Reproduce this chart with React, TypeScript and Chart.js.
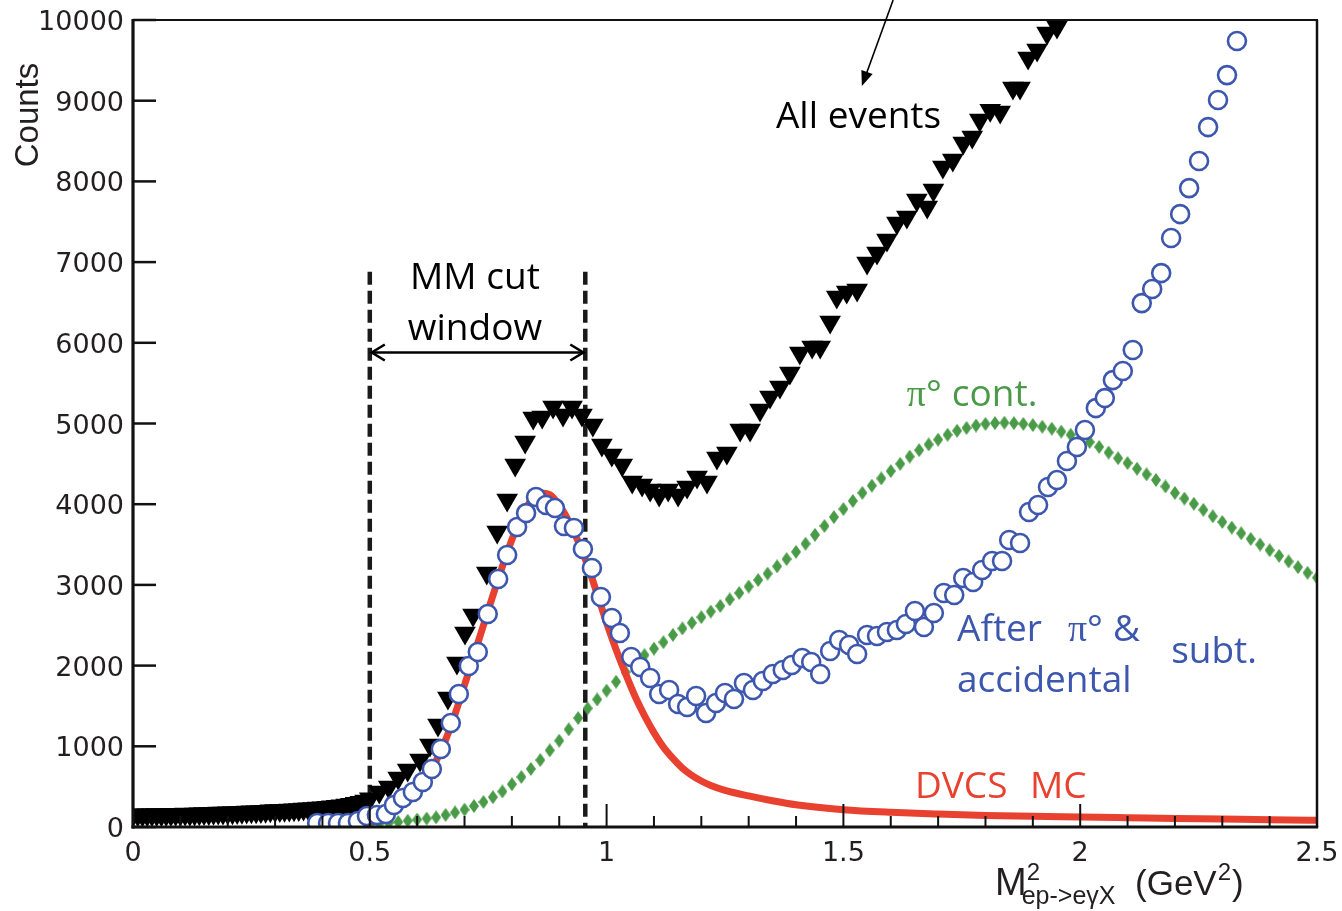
import React, { useEffect, useRef } from "react";
import { Chart, registerables } from "chart.js";

Chart.register(...registerables);

// ---------------- data ----------------
// All events (black downward triangles)
const allEventsX = [
  0.0, 0.01, 0.02, 0.03, 0.04, 0.05, 0.06, 0.07, 0.08, 0.09,
  0.1, 0.11, 0.12, 0.13, 0.14, 0.15, 0.16, 0.17, 0.18, 0.19,
  0.2, 0.21, 0.22, 0.23, 0.24, 0.25, 0.26, 0.27, 0.28, 0.29,
  0.3, 0.31, 0.32, 0.33, 0.34, 0.35, 0.36, 0.37, 0.38, 0.39,
  0.4, 0.41, 0.42, 0.43, 0.44, 0.45, 0.46, 0.47, 0.48, 0.49,
  0.5, 0.52, 0.54, 0.56, 0.58, 0.606, 0.627, 0.644, 0.665, 0.684,
  0.701, 0.718, 0.747, 0.769, 0.79, 0.807, 0.828, 0.845, 0.864, 0.887,
  0.908, 0.927, 0.948, 0.971, 0.99, 1.011, 1.033, 1.054, 1.075, 1.092,
  1.111, 1.13, 1.151, 1.17, 1.191, 1.212, 1.233, 1.254, 1.282, 1.303,
  1.324, 1.345, 1.366, 1.387, 1.408, 1.434, 1.451, 1.472, 1.486, 1.507,
  1.529, 1.55, 1.571, 1.592, 1.613, 1.634, 1.655, 1.677, 1.69, 1.71,
  1.731, 1.753, 1.772, 1.788, 1.81, 1.831, 1.858, 1.873, 1.89, 1.909,
  1.93, 1.951, 1.97, 1.99,
];
const allEventsY = [
  150, 151, 150, 152, 153, 154, 152, 155, 156, 158,
  158, 160, 159, 162, 165, 166, 168, 170, 172, 175,
  176, 178, 180, 183, 185, 188, 190, 193, 196, 200,
  203, 205, 208, 212, 215, 218, 222, 226, 230, 236,
  240, 245, 250, 256, 263, 272, 283, 295, 308, 322,
  350, 434, 496, 607, 706, 830, 1016, 1264, 1598, 2032,
  2404, 2627, 3147, 3655, 4051, 4486, 4770, 5068, 5080, 5204,
  5105, 5204, 5105, 4981, 4733, 4609, 4485, 4275, 4237, 4175,
  4113, 4175, 4113, 4213, 4337, 4275, 4572, 4634, 4919, 4919,
  5167, 5328, 5451, 5625, 5873, 5947, 5947, 6257, 6567, 6629,
  6653, 6988, 7112, 7273, 7484, 7558, 7769, 7682, 7893, 8177,
  8264, 8475, 8550, 8760, 8883, 8859, 9156, 9156, 9528, 9627,
  9838, 9912, 10150, 10400,
];

// pi0 contamination (green diamonds)
const pi0X = [
  0.4, 0.42, 0.44, 0.46, 0.48, 0.5, 0.52, 0.54, 0.56, 0.58,
  0.6, 0.62, 0.64, 0.66, 0.68, 0.7, 0.72, 0.74, 0.76, 0.78,
  0.8, 0.82, 0.84, 0.86, 0.88, 0.9, 0.92, 0.94, 0.96, 0.98,
  1.0, 1.02, 1.04, 1.06, 1.08, 1.1, 1.12, 1.14, 1.16, 1.18,
  1.2, 1.22, 1.24, 1.26, 1.28, 1.3, 1.32, 1.34, 1.36, 1.38,
  1.4, 1.42, 1.44, 1.46, 1.48, 1.5, 1.52, 1.54, 1.56, 1.58,
  1.6, 1.62, 1.64, 1.66, 1.68, 1.7, 1.72, 1.74, 1.76, 1.78,
  1.8, 1.82, 1.84, 1.86, 1.88, 1.9, 1.92, 1.94, 1.96, 1.98,
  2.0, 2.02, 2.04, 2.06, 2.08, 2.1, 2.12, 2.14, 2.16, 2.18,
  2.2, 2.22, 2.24, 2.26, 2.28, 2.3, 2.32, 2.34, 2.36, 2.38,
  2.4, 2.42, 2.44, 2.46, 2.48, 2.5,
];
const pi0Y = [
  5, 8, 12, 16, 20, 28, 38, 50, 62, 78,
  92, 105, 120, 150, 180, 215, 260, 310, 370, 440,
  530, 620, 720, 830, 950, 1070, 1210, 1350, 1470, 1580,
  1690, 1800, 1920, 2030, 2130, 2210, 2290, 2380, 2460, 2530,
  2600, 2670, 2740, 2820, 2900, 2980, 3060, 3140, 3230, 3320,
  3410, 3510, 3620, 3730, 3840, 3940, 4040, 4140, 4230, 4320,
  4410, 4500, 4590, 4670, 4740, 4800, 4860, 4910, 4945, 4975,
  4995, 5005, 5010, 5005, 4995, 4980, 4960, 4935, 4900, 4860,
  4815, 4770, 4710, 4640, 4570, 4510, 4440, 4370, 4300, 4220,
  4140, 4070, 4005, 3930, 3850, 3780, 3710, 3640, 3570, 3500,
  3430, 3360, 3290, 3220, 3150, 3090,
];

// DVCS Monte Carlo (red curve)
const dvcsX = [
  0.5, 0.55, 0.6, 0.62, 0.64, 0.66, 0.68, 0.7, 0.72, 0.74,
  0.76, 0.78, 0.8, 0.82, 0.84, 0.86, 0.88, 0.9, 0.92, 0.94,
  0.96, 0.98, 1.0, 1.02, 1.04, 1.06, 1.08, 1.1, 1.12, 1.14,
  1.16, 1.18, 1.2, 1.22, 1.25, 1.3, 1.35, 1.4, 1.5, 1.6,
  1.7, 1.8, 1.9, 2.0, 2.1, 2.2, 2.3, 2.4, 2.5,
];
const dvcsY = [
  50, 200, 470, 620, 820, 1080, 1400, 1760, 2130, 2500,
  2870, 3230, 3560, 3840, 4040, 4140, 4120, 3990, 3790, 3540,
  3240, 2890, 2530, 2200, 1900, 1620, 1380, 1170, 990, 850,
  730, 640, 570, 515, 455, 385, 325, 275, 215, 182,
  160, 143, 132, 124, 115, 106, 98, 90, 83,
];

// After pi0 & accidental subtraction (blue open circles)
const afterX = [
  0.389, 0.412, 0.433, 0.454, 0.475, 0.494, 0.515, 0.534, 0.551, 0.57,
  0.591, 0.612, 0.631, 0.65, 0.671, 0.688, 0.709, 0.728, 0.749, 0.771,
  0.79, 0.811, 0.83, 0.851, 0.872, 0.891, 0.91, 0.931, 0.95, 0.969,
  0.988, 1.011, 1.028, 1.052, 1.071, 1.092, 1.111, 1.132, 1.151, 1.17,
  1.189, 1.21, 1.231, 1.25, 1.269, 1.29, 1.309, 1.33, 1.351, 1.372,
  1.391, 1.413, 1.432, 1.451, 1.472, 1.491, 1.512, 1.529, 1.55, 1.571,
  1.592, 1.613, 1.632, 1.651, 1.67, 1.691, 1.712, 1.734, 1.753, 1.774,
  1.793, 1.814, 1.835, 1.85, 1.873, 1.892, 1.911, 1.932, 1.951, 1.972,
  1.993, 2.01, 2.033, 2.052, 2.069, 2.09, 2.111, 2.13, 2.152, 2.171,
  2.192, 2.211, 2.23, 2.251, 2.27, 2.291, 2.31, 2.331,
];
const afterY = [
  50, 50, 50, 50, 74, 136, 149, 161, 273, 359,
  434, 558, 719, 966, 1289, 1648, 1995, 2168, 2639, 3073,
  3370, 3717, 3890, 4089, 3990, 3952, 3729, 3705, 3444, 3209,
  2850, 2590, 2404, 2106, 1982, 1846, 1648, 1697, 1524, 1487,
  1623, 1412, 1536, 1660, 1586, 1784, 1697, 1809, 1896, 1945,
  2007, 2094, 2044, 1896, 2181, 2317, 2255, 2143, 2379, 2367,
  2416, 2441, 2515, 2676, 2478, 2651, 2899, 2874, 3085, 3036,
  3184, 3296, 3296, 3556, 3519, 3903, 3990, 4213, 4299, 4535,
  4708, 4919, 5191, 5315, 5538, 5650, 5910, 6492, 6666, 6864,
  7298, 7595, 7917, 8252, 8673, 9008, 9317, 9739,
];

// axis ticks
const yTickValues = [0, 1000, 2000, 3000, 4000, 5000, 6000, 7000, 8000, 9000, 10000];
const xMajorTicks = [0, 0.5, 1, 1.5, 2, 2.5];
const xMinorTicks = [
  0.1, 0.2, 0.3, 0.4, 0.6, 0.7, 0.8, 0.9, 1.1, 1.2, 1.3, 1.4,
  1.6, 1.7, 1.8, 1.9, 2.1, 2.2, 2.3, 2.4,
];

// missing-mass cut window
const cutWindow = [0.5, 0.955];
const cutLineTop = 6880;
const cutArrowY = 5880;

// ---------------- styling ----------------
const BLACK = "#000000";
const GREEN = "#4a9b47";
const BLUE = "#3c57ad";
const RED = "#e8412f";
const AXIS_TEXT = "#231f20";
const ANNOT_FONT = '"Open Sans", "Noto Sans", sans-serif';
const TITLE_FONT = '"Liberation Sans", Arial, sans-serif';

const toPoints = (xs: number[], ys: number[]) => xs.map((x, i) => ({ x, y: ys[i] }));

function makeDiamond(w: number, h: number, color: string) {
  const c = document.createElement("canvas");
  c.width = w;
  c.height = h;
  const g = c.getContext("2d")!;
  g.fillStyle = color;
  g.beginPath();
  g.moveTo(w / 2, 0);
  g.lineTo(w, h / 2);
  g.lineTo(w / 2, h);
  g.lineTo(0, h / 2);
  g.closePath();
  g.fill();
  return c;
}

function drawLine(ctx: CanvasRenderingContext2D, x1: number, y1: number, x2: number, y2: number) {
  ctx.beginPath();
  ctx.moveTo(x1, y1);
  ctx.lineTo(x2, y2);
  ctx.stroke();
}

function drawText(
  ctx: CanvasRenderingContext2D,
  s: string,
  x: number,
  y: number,
  font: string,
  color: string,
  align: CanvasTextAlign = "left"
) {
  ctx.font = font;
  ctx.fillStyle = color;
  ctx.textAlign = align;
  ctx.textBaseline = "alphabetic";
  ctx.fillText(s, x, y);
  return ctx.measureText(s).width;
}

const annotationPlugin = {
  id: "mmAnnotations",
  beforeDatasetsDraw(chart: any) {
    const { ctx, chartArea } = chart;
    const xs = chart.scales.x;
    const ys = chart.scales.y;
    ctx.save();
    ctx.strokeStyle = "#1a1a1a";
    ctx.lineWidth = 4.5;
    ctx.setLineDash([13, 6]);
    for (const cx of cutWindow) {
      const px = xs.getPixelForValue(cx);
      drawLine(ctx, px, ys.getPixelForValue(cutLineTop), px, chartArea.bottom);
    }
    ctx.restore();
  },
  afterDatasetsDraw(chart: any) {
    const { ctx, chartArea: ca } = chart;
    const xs = chart.scales.x;
    const ys = chart.scales.y;
    const X = (v: number) => xs.getPixelForValue(v);
    const Y = (v: number) => ys.getPixelForValue(v);
    ctx.save();
    ctx.setLineDash([]);
    ctx.strokeStyle = "#111111";
    ctx.lineCap = "butt";

    // frame
    ctx.lineWidth = 2;
    drawLine(ctx, ca.left, ca.top, ca.right + 1, ca.top);
    ctx.lineWidth = 2.5;
    drawLine(ctx, ca.right, ca.top, ca.right, ca.bottom);
    ctx.lineWidth = 3.2;
    drawLine(ctx, ca.left, ca.top - 1, ca.left, ca.bottom + 1.5);
    drawLine(ctx, ca.left - 1.5, ca.bottom, ca.right + 1.2, ca.bottom);

    // ticks (inward)
    ctx.lineWidth = 2.5;
    for (const v of yTickValues) drawLine(ctx, ca.left, Y(v), ca.left + 23, Y(v));
    ctx.lineWidth = 2;
    for (const v of xMajorTicks) drawLine(ctx, X(v), ca.bottom, X(v), ca.bottom - 23);
    for (const v of xMinorTicks) drawLine(ctx, X(v), ca.bottom, X(v), ca.bottom - 11);

    // cut window double arrow
    const ax1 = X(cutWindow[0]) + 2;
    const ax2 = X(cutWindow[1]) - 2;
    const ay = Y(cutArrowY);
    ctx.strokeStyle = BLACK;
    ctx.lineWidth = 2.6;
    drawLine(ctx, ax1, ay, ax2, ay);
    ctx.beginPath();
    ctx.moveTo(ax1 + 13, ay - 8);
    ctx.lineTo(ax1, ay);
    ctx.lineTo(ax1 + 13, ay + 8);
    ctx.moveTo(ax2 - 13, ay - 8);
    ctx.lineTo(ax2, ay);
    ctx.lineTo(ax2 - 13, ay + 8);
    ctx.stroke();

    // All events arrow
    const tx = X(1.539);
    const ty = Y(9181);
    const sx = X(1.605);
    const sy = Y(10247);
    const ang = Math.atan2(ty - sy, tx - sx);
    ctx.lineWidth = 1.6;
    drawLine(ctx, sx, sy, tx - Math.cos(ang) * 10, ty - Math.sin(ang) * 10);
    ctx.fillStyle = BLACK;
    ctx.beginPath();
    ctx.moveTo(tx, ty);
    ctx.lineTo(tx - Math.cos(ang) * 15 - Math.sin(ang) * 6, ty - Math.sin(ang) * 15 + Math.cos(ang) * 6);
    ctx.lineTo(tx - Math.cos(ang) * 15 + Math.sin(ang) * 6, ty - Math.sin(ang) * 15 - Math.cos(ang) * 6);
    ctx.closePath();
    ctx.fill();

    // annotation texts
    const f37 = `37px ${ANNOT_FONT}`;
    const pi37 = `38px "Liberation Serif", "DejaVu Serif", serif`;
    drawText(ctx, "All events", X(1.532), Y(8661), f37, BLACK, "center");
    drawText(ctx, "MM cut", X(0.722), Y(6666), f37, BLACK, "center");
    drawText(ctx, "window", X(0.722), Y(6034), f37, BLACK, "center");

    // pi0 cont.
    let w = drawText(ctx, "π", X(1.634), Y(5216), pi37, GREEN);
    drawText(ctx, "°", X(1.634) + w, Y(5216), f37, GREEN);
    drawText(ctx, "cont.", X(1.729), Y(5216), f37, GREEN);

    // After pi0 & accidental subt.
    drawText(ctx, "After", X(1.74), Y(2305), f37, BLUE);
    w = drawText(ctx, "π", X(1.974), Y(2305), pi37, BLUE);
    drawText(ctx, "°", X(1.974) + w, Y(2305), f37, BLUE);
    drawText(ctx, "&", X(2.069), Y(2305), f37, BLUE);
    drawText(ctx, "accidental", X(1.74), Y(1673), f37, BLUE);
    drawText(ctx, "subt.", X(2.192), Y(2032), f37, BLUE);

    // DVCS MC
    drawText(ctx, "DVCS", X(1.651), Y(359), f37, RED);
    drawText(ctx, "MC", X(1.894), Y(359), f37, RED);

    ctx.restore();
  },
  afterDraw(chart: any) {
    const { ctx } = chart;
    ctx.save();
    // y-axis title
    ctx.translate(38, 115);
    ctx.rotate(-Math.PI / 2);
    drawText(ctx, "Counts", 0, 0, `33px ${TITLE_FONT}`, AXIS_TEXT, "center");
    ctx.restore();

    ctx.save();
    // x-axis title: M^2_{ep->eγX} (GeV^2)
    let x = 995;
    const base = 895;
    const mw = drawText(ctx, "M", x, base, `38px ${TITLE_FONT}`, AXIS_TEXT);
    drawText(ctx, "2", x + mw, base - 15, `24px ${TITLE_FONT}`, AXIS_TEXT);
    drawText(ctx, "ep->eγX", x + mw - 5, base + 9, `25px ${TITLE_FONT}`, AXIS_TEXT);
    x = 1135;
    x += drawText(ctx, "(GeV", x, base, `35px ${TITLE_FONT}`, AXIS_TEXT);
    x += drawText(ctx, "2", x + 1, base - 15, `24px ${TITLE_FONT}`, AXIS_TEXT) + 2;
    drawText(ctx, ")", x, base, `35px ${TITLE_FONT}`, AXIS_TEXT);
    ctx.restore();
  },
};

export default function App() {
  const canvasRef = useRef<HTMLCanvasElement | null>(null);

  useEffect(() => {
    if (!canvasRef.current) return;
    const diamond = makeDiamond(10, 14, GREEN);
    const chart = new Chart(canvasRef.current, {
      type: "scatter",
      data: {
        datasets: [
          {
            label: "After π° & accidental subt.",
            data: toPoints(afterX, afterY),
            showLine: false,
            pointStyle: "circle",
            pointRadius: 9,
            pointBackgroundColor: "#ffffff",
            pointBorderColor: BLUE,
            pointBorderWidth: 2.6,
            clip: 0,
          },
          {
            label: "DVCS MC",
            data: toPoints(dvcsX, dvcsY),
            showLine: true,
            pointRadius: 0,
            borderColor: RED,
            borderWidth: 7,
            cubicInterpolationMode: "monotone",
            fill: false,
            clip: 0,
          },
          {
            label: "π° cont.",
            data: toPoints(pi0X, pi0Y),
            showLine: false,
            pointStyle: diamond,
            pointRadius: 6,
            pointBackgroundColor: GREEN,
            pointBorderColor: GREEN,
            pointBorderWidth: 0,
            clip: 0,
          },
          {
            label: "All events",
            data: toPoints(allEventsX, allEventsY),
            showLine: false,
            pointStyle: "triangle",
            rotation: 180,
            pointRadius: 12.5,
            pointBackgroundColor: BLACK,
            pointBorderColor: BLACK,
            pointBorderWidth: 0,
            clip: 0,
          },
        ],
      },
      options: {
        animation: false,
        responsive: true,
        maintainAspectRatio: false,
        devicePixelRatio: 1,
        events: [],
        layout: { padding: { top: 20, right: 25, left: 0, bottom: 0 } },
        plugins: {
          legend: { display: false },
          tooltip: { enabled: false },
          title: { display: false },
        },
        scales: {
          x: {
            type: "linear",
            min: 0,
            max: 2.5,
            grid: { display: false, drawTicks: false },
            border: { display: false },
            ticks: {
              stepSize: 0.5,
              autoSkip: false,
              maxRotation: 0,
              padding: 11,
              color: AXIS_TEXT,
              font: { family: "DejaVu Sans", size: 27 },
              callback: (v: any) => String(v),
            },
            afterFit: (scale: any) => {
              scale.height = 84;
              scale.paddingLeft = 0;
              scale.paddingRight = 0;
              scale.paddingTop = 0;
              scale.paddingBottom = 0;
            },
          },
          y: {
            type: "linear",
            min: 0,
            max: 10000,
            grid: { display: false, drawTicks: false },
            border: { display: false },
            ticks: {
              stepSize: 1000,
              autoSkip: false,
              padding: 9,
              labelOffset: 3,
              color: AXIS_TEXT,
              font: { family: "DejaVu Sans", size: 27 },
              callback: (v: any) => String(v),
            },
            afterFit: (scale: any) => {
              scale.width = 133;
              scale.paddingLeft = 0;
              scale.paddingRight = 0;
              scale.paddingTop = 0;
              scale.paddingBottom = 0;
            },
          },
        },
      },
      plugins: [annotationPlugin],
    } as any);
    return () => chart.destroy();
  }, []);

  return (
    <div
      style={{
        position: "fixed",
        left: 0,
        top: 0,
        width: 1342,
        height: 911,
        background: "#ffffff",
      }}
    >
      <canvas ref={canvasRef} />
    </div>
  );
}
